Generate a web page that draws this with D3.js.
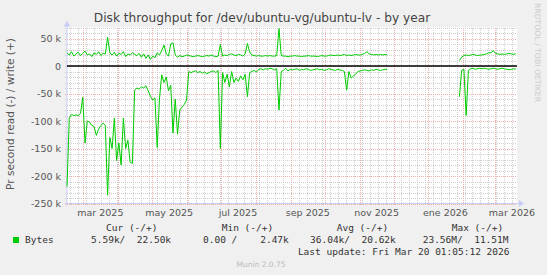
<!DOCTYPE html>
<html>
<head>
<meta charset="utf-8">
<script src="https://cdn.jsdelivr.net/npm/d3@7"></script>
<style>
body { margin: 0; background: #f0f0f0; }
svg { display: block; }
text { white-space: pre; }
</style>
</head>
<body>
<div id="chart"></div>
<script>
// Samples: one every 2 days, values in k (bytes per second)
var startDate = new Date(2025, 1, 14, 10);
var stepDays = 2;

var writeK = [
  24, 20, 26, 18, 22, 25, 19, 23, 27, 20,
  22, 17, 24, 21, 26, 19, 23, 22, 52, 24,
  20, 25, 18, 23, 21, 26, 17, 22, 20, 24,
  21, 19, 23, 16, 22, 14, 20, 12, 18, 15,
  24, 20, 28, 38, 22, 18, 40, 42, 20, 16,
  19, 17, 18, 20, 19, 18, 17, 18, 19, 18,
  17, 18, 19, 18, 20, 18, 17, 18, 39, 18,
  20, 19, 21, 22, 20, 19, 21, 20, 18, 22,
  41, 25, 20, 19, 18, 19, 18, 18, 19, 18,
  19, 18, 18, 19, 68, 19, 18, 18, 17, 18,
  18, 19, 18, 18, 17, 18, 18, 19, 18, 18,
  18, 17, 18, 19, 18, 18, 19, 20, 19, 19,
  20, 19, 20, 21, 19, 20, 19, 20, 21, 20,
  20, 21, 23, 26, 22, 21, 20, 21, 20, 21,
  20, 21, 20, null, null, null, null, null, null, null,
  null, null, null, null, null, null, null, null, null, null,
  null, null, null, null, null, null, null, null, null, null,
  null, null, null, null, 10, 16, 19, 20, 19, 20,
  21, 20, 19, 20, 20, 21, 22, 24, 24, 28,
  23, 22, 21, 22, 21, 22, 23, 22, 21, 22.5
];

var readK = [
  -219, -95, -88, -90, -89, -90, -86, -57, -140, -100,
  -102, -108, -110, -126, -115, -108, -104, -108, -235, -130,
  -150, -95, -172, -140, -180, -95, -150, -135, -175, -177,
  -44, -40, -42, -38, -40, -36, -45, -55, -62, -58,
  -148, -60, -16, -30, -20, -45, -35, -122, -60, -124,
  -80, -75, -70, -62, -10, -12, -10, -9, -12, -10,
  -13, -11, -14, -12, -10, -9, -12, -8, -150, -12,
  -30, -15, -38, -10, -30, -22, -28, -18, -25, -15,
  -56, -12, -10, -8, -11, -6, -5, -7, -5, -6,
  -4, -5, -7, -5, -80, -10, -8, -4, -9, -6,
  -7, -6, -5, -8, -6, -7, -5, -6, -8, -7,
  -6, -5, -7, -6, -8, -7, -5, -6, -7, -8,
  -6, -7, -8, -10, -44, -10, -22, -18, -15, -10,
  -9, -8, -7, -8, -9, -7, -8, -6, -7, -8,
  -7, -6, -6, null, null, null, null, null, null, null,
  null, null, null, null, null, null, null, null, null, null,
  null, null, null, null, null, null, null, null, null, null,
  null, null, null, null, -56, -8, -6, -90, -8, -5,
  -4, -6, -5, -4, -5, -4, -5, -6, -5, -4,
  -5, -6, -5, -4, -5, -6, -7, -6, -5, -5.59
];

var yTicks = [50, 0, -50, -100, -150, -200, -250];
var yTickLabels = ["50 k", "0", "-50 k", "-100 k", "-150 k", "-200 k", "-250 k"];
var monthLabelDates = [new Date(2025, 2, 1), new Date(2025, 4, 1), new Date(2025, 6, 1),
  new Date(2025, 8, 1), new Date(2025, 10, 1), new Date(2026, 0, 1), new Date(2026, 2, 1)];
var monthLabels = ["mar 2025", "may 2025", "jul 2025", "sep 2025", "nov 2025", "ene 2026", "mar 2026"];

var legendHeads = ["Cur (-/+)", "Min (-/+)", "Avg (-/+)", "Max (-/+)"];
var legendValues = ["5.59k/  22.50k", "0.00 /    2.47k", "36.04k/  20.62k", "23.56M/  11.51M"];

var svgWidth = 547, svgHeight = 275;
var plot = { left: 67, right: 517, top: 27.5, bottom: 203.5 };

var svg = d3.select("#chart").append("svg")
  .attr("width", svgWidth)
  .attr("height", svgHeight);

svg.append("rect").attr("width", svgWidth).attr("height", svgHeight).attr("fill", "#f0f0f0");
svg.append("rect")
  .attr("x", plot.left).attr("y", plot.top)
  .attr("width", plot.right - plot.left).attr("height", plot.bottom - plot.top)
  .attr("fill", "#ffffff");

var x = d3.scaleTime()
  .domain([new Date(2025, 1, 14, 10), new Date(2026, 2, 20, 12)])
  .range([plot.left, plot.right]);

var y = d3.scaleLinear()
  .domain([-250, 70])
  .range([plot.bottom, plot.top]);

// grid: minor lines first, then major
var minorY = d3.range(-250, 71, 10).filter(v => v % 50 !== 0);
var majorY = d3.range(-250, 71, 50);
var minorX = d3.timeMonday.range(x.domain()[0], x.domain()[1])
  .filter(d => d.getDate() !== 1);
var majorX = d3.timeMonth.range(x.domain()[0], x.domain()[1]);

var grid = svg.append("g").attr("shape-rendering", "crispEdges");

grid.selectAll(".minx").data(minorX).enter().append("line")
  .attr("x1", d => Math.round(x(d)) + 0.5).attr("x2", d => Math.round(x(d)) + 0.5)
  .attr("y1", plot.top).attr("y2", plot.bottom + 2)
  .attr("stroke", "#cfcfcf").attr("stroke-dasharray", "1,1");

grid.selectAll(".miny").data(minorY).enter().append("line")
  .attr("x1", plot.left - 2).attr("x2", plot.right)
  .attr("y1", d => Math.round(y(d)) + 0.5).attr("y2", d => Math.round(y(d)) + 0.5)
  .attr("stroke", "#cfcfcf").attr("stroke-dasharray", "1,1");

grid.selectAll(".majx").data(majorX).enter().append("line")
  .attr("x1", d => Math.round(x(d)) + 0.5).attr("x2", d => Math.round(x(d)) + 0.5)
  .attr("y1", plot.top).attr("y2", plot.bottom + 2)
  .attr("stroke", "#f0b0b0").attr("stroke-dasharray", "1,1");

grid.selectAll(".majy").data(majorY).enter().append("line")
  .attr("x1", plot.left - 2).attr("x2", plot.right)
  .attr("y1", d => Math.round(y(d)) + 0.5).attr("y2", d => Math.round(y(d)) + 0.5)
  .attr("stroke", "#f0b0b0").attr("stroke-dasharray", "1,1");

// axes
var axisColor = "#c9cdf3";
svg.append("line")
  .attr("x1", plot.left - 2).attr("x2", plot.right + 3)
  .attr("y1", plot.bottom).attr("y2", plot.bottom)
  .attr("stroke", axisColor);
svg.append("line")
  .attr("x1", plot.left).attr("x2", plot.left)
  .attr("y1", plot.bottom + 2).attr("y2", plot.top - 3)
  .attr("stroke", axisColor);
svg.append("path")
  .attr("d", `M${plot.right + 2},${plot.bottom - 3.5} L${plot.right + 7},${plot.bottom} L${plot.right + 2},${plot.bottom + 3.5} Z`)
  .attr("fill", axisColor);
svg.append("path")
  .attr("d", `M${plot.left - 3.5},${plot.top - 1} L${plot.left},${plot.top - 6.5} L${plot.left + 3.5},${plot.top - 1} Z`)
  .attr("fill", axisColor);

var yAxis = svg.append("g")
  .attr("transform", `translate(${plot.left - 6},0)`)
  .call(d3.axisLeft(y).tickValues(yTicks).tickSize(0)
    .tickFormat((d, i) => yTickLabels[i]));
yAxis.select(".domain").remove();
yAxis.selectAll("text")
  .attr("x", 0).attr("dy", "0.35em")
  .style("font-family", "DejaVu Sans").style("font-size", "9.5px").attr("fill", "#555");

var xAxis = svg.append("g")
  .attr("transform", `translate(0,${plot.bottom + 6})`)
  .call(d3.axisBottom(x).tickValues(monthLabelDates).tickSize(0)
    .tickFormat((d, i) => monthLabels[i]));
xAxis.select(".domain").remove();
// labels sit in the middle of the month, like rrdtool does
xAxis.selectAll(".tick")
  .attr("transform", d => `translate(${x(d3.timeDay.offset(d, 15))},0)`);
xAxis.selectAll("text")
  .attr("y", 0).attr("dy", "0.71em")
  .style("font-family", "DejaVu Sans").style("font-size", "9.5px").attr("fill", "#555");

// data lines
var line = d3.line()
  .defined(d => d != null)
  .x((d, i) => x(d3.timeDay.offset(startDate, i * stepDays)))
  .y(d => y(d));

svg.append("path").datum(writeK)
  .attr("d", line).attr("fill", "none")
  .attr("stroke", "#00cc00").attr("stroke-width", 1);
svg.append("path").datum(readK)
  .attr("d", line).attr("fill", "none")
  .attr("stroke", "#00cc00").attr("stroke-width", 1);

// zero rule
svg.append("line")
  .attr("x1", plot.left).attr("x2", plot.right)
  .attr("y1", y(0)).attr("y2", y(0))
  .attr("stroke", "#000").attr("stroke-width", 1.6);

// titles
svg.append("text")
  .attr("x", 262).attr("y", 22)
  .attr("text-anchor", "middle")
  .style("font-family", "DejaVu Sans").style("font-size", "12.2px")
  .attr("fill", "#444")
  .text("Disk throughput for /dev/ubuntu-vg/ubuntu-lv - by year");

svg.append("text")
  .attr("transform", "translate(14,114) rotate(-90)")
  .attr("text-anchor", "middle")
  .style("font-family", "DejaVu Sans").style("font-size", "10.6px")
  .attr("fill", "#555")
  .text("Pr second read (-) / write (+)");

svg.append("text")
  .attr("transform", "translate(535,3) rotate(90)")
  .style("font-family", "DejaVu Sans").style("font-size", "7.7px")
  .attr("fill", "#cccccc")
  .text("RRDTOOL / TOBI OETIKER");

// legend
var mono = "DejaVu Sans Mono";
var headX = [106, 221.7, 336.7, 451.7];
var valX = [91, 203, 310, 422.7];

svg.selectAll(".lhead").data(legendHeads).enter().append("text")
  .attr("x", (d, i) => headX[i]).attr("y", 231)
  .style("font-family", mono).style("font-size", "9.5px").attr("fill", "#333")
  .text(d => d);

svg.append("rect")
  .attr("x", 13).attr("y", 237).attr("width", 6).attr("height", 6)
  .attr("fill", "#00cc00");
svg.append("text")
  .attr("x", 25).attr("y", 243)
  .style("font-family", mono).style("font-size", "9.5px").attr("fill", "#333")
  .text("Bytes");

svg.selectAll(".lval").data(legendValues).enter().append("text")
  .attr("x", (d, i) => valX[i]).attr("y", 243)
  .style("font-family", mono).style("font-size", "9.5px").attr("fill", "#333")
  .text(d => d);

svg.append("text")
  .attr("x", 509.5).attr("y", 254.5)
  .attr("text-anchor", "end")
  .style("font-family", mono).style("font-size", "9.5px").attr("fill", "#333")
  .text("Last update: Fri Mar 20 01:05:12 2026");

svg.append("text")
  .attr("x", 261).attr("y", 267)
  .attr("text-anchor", "middle")
  .style("font-family", "DejaVu Sans").style("font-size", "7.5px")
  .attr("fill", "#bbbbbb")
  .text("Munin 2.0.75");
</script>
</body>
</html>
